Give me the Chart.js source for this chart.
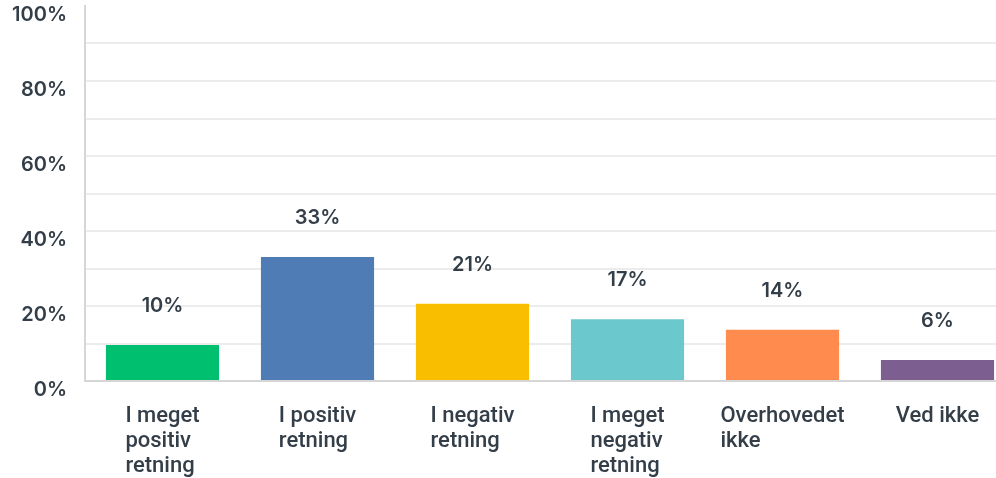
<!DOCTYPE html>
<html>
<head>
<meta charset="utf-8">
<script src="https://cdn.jsdelivr.net/npm/chart.js@4/dist/chart.umd.min.js"></script>
<style>
  html, body { margin: 0; padding: 0; background: #fff; overflow: hidden; }
  #wrap { width: 1018px; height: 478px; position: relative; }
</style>
</head>
<body>
<div id="wrap"><canvas id="c" width="1018" height="478"></canvas></div>
<script>
const categories = [
  ["I meget", "positiv", "retning"],
  ["I positiv", "retning"],
  ["I negativ", "retning"],
  ["I meget", "negativ", "retning"],
  ["Overhovedet", "ikke"],
  ["Ved ikke"]
];
const values = [9.6, 33.1, 20.6, 16.5, 13.7, 5.6];
const valueLabels = ["10%", "33%", "21%", "17%", "14%", "6%"];
const barColors = ["#00bf6f", "#507cb6", "#f9be00", "#6bc8cd", "#ff8b4f", "#7d5e90"];
const yTickLabels = { 0: "0%", 20: "20%", 40: "40%", 60: "60%", 80: "80%", 100: "100%" };

const NUM_FONT = 'Inter, sans-serif';
const CAT_FONT = 'Roboto, sans-serif';
const TEXT = '#333e48';

const labelsPlugin = {
  id: 'customLabels',
  afterDatasetsDraw(chart) {
    const ctx = chart.ctx;
    const meta = chart.getDatasetMeta(0);
    ctx.save();
    ctx.fillStyle = TEXT;
    ctx.font = '600 20px ' + NUM_FONT;
    ctx.textAlign = 'center';
    ctx.textBaseline = 'alphabetic';
    meta.data.forEach((bar, i) => {
      ctx.fillText(valueLabels[i], bar.x, bar.y - 33);
    });
    // category labels: block centered on bar, lines left-aligned
    ctx.font = '500 22px ' + CAT_FONT;
    ctx.textAlign = 'left';
    const xs = chart.scales.x;
    categories.forEach((lines, i) => {
      const cx = xs.getPixelForValue(i);
      const w = Math.max(...lines.map(l => ctx.measureText(l).width));
      const left = cx - w / 2;
      lines.forEach((l, j) => {
        ctx.fillText(l, left, 422 + j * 25);
      });
    });
    ctx.restore();
  }
};

new Chart(document.getElementById('c'), {
  type: 'bar',
  data: {
    labels: categories.map(c => c.join(' ')),
    datasets: [{
      data: values,
      backgroundColor: barColors,
      borderWidth: 0,
      categoryPercentage: 1.0,
      barPercentage: 0.73
    }]
  },
  options: {
    responsive: false,
    animation: false,
    layout: { padding: { top: 6, right: 3, left: 0, bottom: 0 } },
    plugins: { legend: { display: false }, tooltip: { enabled: false } },
    scales: {
      x: {
        grid: { display: false },
        border: { display: true, color: '#d6d6d6', width: 2 },
        ticks: { display: false },
        afterFit(scale) { scale.height = 97; scale.paddingLeft = 0; scale.paddingRight = 0; }
      },
      y: {
        min: 0, max: 100,
        afterFit(scale) { scale.width = 85; scale.paddingTop = 0; scale.paddingBottom = 0; },
        border: { display: true, color: '#d6d6d6', width: 2 },
        grid: {
          drawTicks: false,
          lineWidth: 2,
          color: (c) => (c.tick && (c.tick.value === 100 || c.tick.value === 0)) ? 'rgba(0,0,0,0)' : '#ececec'
        },
        ticks: {
          stepSize: 10,
          padding: 18,
          labelOffset: 9,
          color: TEXT,
          font: { family: NUM_FONT, size: 20, weight: '600' },
          callback: (v) => (yTickLabels[v] !== undefined ? yTickLabels[v] : '')
        }
      }
    }
  },
  plugins: [labelsPlugin]
});
</script>
</body>
</html>
